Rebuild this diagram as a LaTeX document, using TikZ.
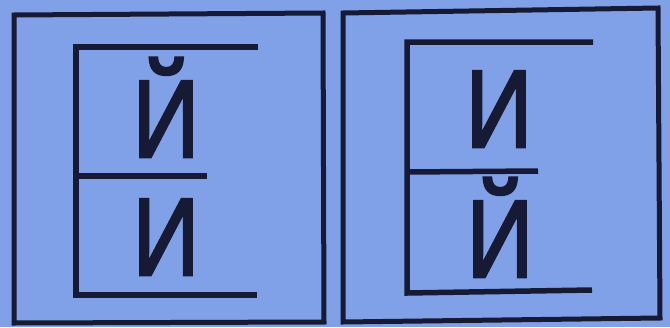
\documentclass[tikz,border=0pt]{standalone}
\usepackage{fontspec}
\setmainfont{Liberation Sans}
\newfontfamily\glyphfont{Liberation Sans}[FakeBold=2.5]
\definecolor{bg}{RGB}{128,160,232}
\definecolor{ink}{RGB}{22,26,52}
\begin{document}
\begin{tikzpicture}[x=1pt,y=-1pt,
  frame/.style={draw=ink,line width=5pt,line join=miter},
  ebar/.style={draw=ink,line width=5.5pt},
  glyph/.style={text=ink,font=\glyphfont\fontsize{110}{110}\selectfont,xscale=0.84,anchor=base,inner sep=0pt}]
\fill[bg] (0,0) rectangle (670,327);
\useasboundingbox (0,0) rectangle (670,327);
% left panel
\draw[frame] (14,15) -- (323,13) -- (324,322) -- (14,323) -- cycle;
\draw[ebar] (258,47) -- (76,47) -- (76,295) -- (257,295);
\draw[ebar] (76,176) -- (207,176);
\node[glyph] (l1) at (166,157) {Й};
\node[glyph] (l2) at (166,275) {И};
% right panel
\draw[frame] (343,13) -- (658,8) -- (660,318) -- (343,322) -- cycle;
\draw[ebar] (593,42) -- (407,42) -- (407,293) -- (592,290);
\draw[ebar] (407,172) -- (538,171);
\node[glyph] (r1) at (499,147) {И};
\node[glyph] (r2) at (500,277) {Й};
\end{tikzpicture}
\end{document}
